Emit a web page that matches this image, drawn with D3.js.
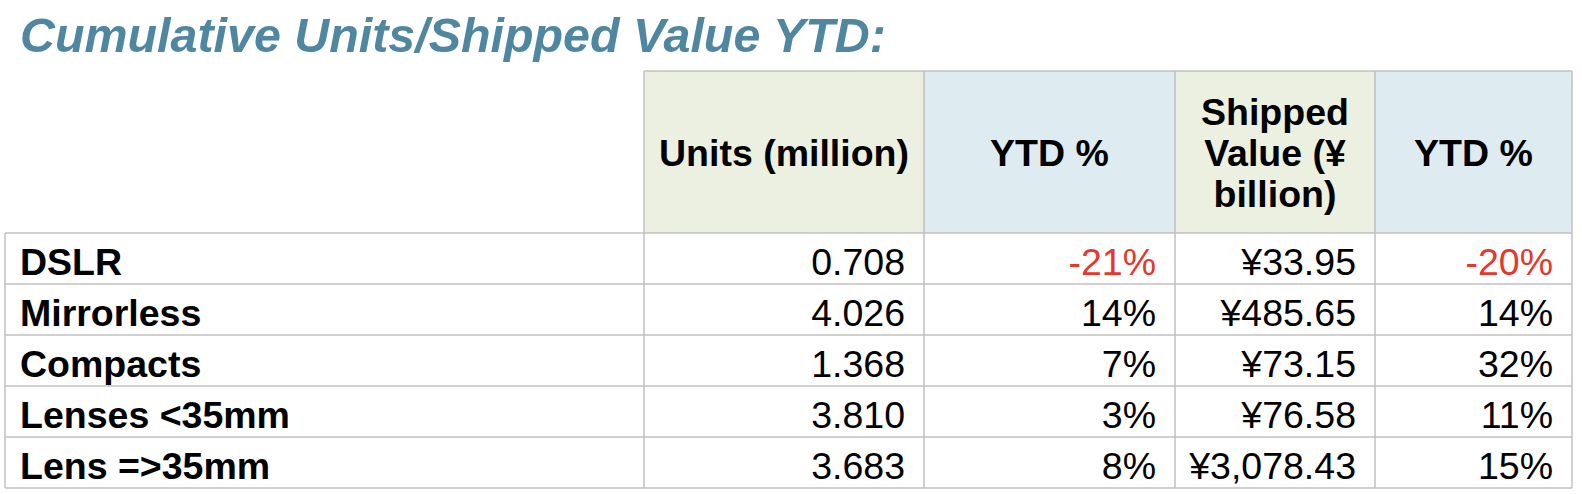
<!DOCTYPE html>
<html>
<head>
<meta charset="utf-8">
<script src="https://cdn.jsdelivr.net/npm/d3@7"></script>
<style>
  html, body { margin: 0; padding: 0; background: #fff; }
  svg { display: block; font-family: "Liberation Sans", Arial, Helvetica, sans-serif; }
</style>
</head>
<body>
<svg id="chart"></svg>
<script>
// table values
const title = "Cumulative Units/Shipped Value YTD:";
const categories = ["DSLR", "Mirrorless", "Compacts", "Lenses <35mm", "Lens =>35mm"];
const units = [0.708, 4.026, 1.368, 3.810, 3.683];          // million
const unitsYtd = [-21, 14, 7, 3, 8];                          // %
const shippedValue = [33.95, 485.65, 73.15, 76.58, 3078.43];  // ¥ billion
const valueYtd = [-20, 14, 32, 11, 15];                       // %
const headerLabels = [["Units (million)"], ["YTD %"], ["Shipped", "Value (¥", "billion)"], ["YTD %"]];

const width = 1582, height = 494;
const colKeys = ["label", "units", "unitsYtd", "value", "valueYtd", "end"];
const x = d3.scaleOrdinal().domain(colKeys).range([5, 644, 924, 1175, 1375, 1572]);
const headerTop = 71, headerBottom = 233;
const y = d3.scaleBand().domain(categories).range([headerBottom, 488]);

const fillGreen = "#ecf0e1", fillBlue = "#deecf1", border = "#c0c0c0";
const fs = 37.5, pad = 19;

const svg = d3.select("#chart").attr("width", width).attr("height", height);

svg.append("text")
  .attr("x", 20).attr("y", 52)
  .attr("font-size", 48.4).attr("font-weight", "bold").attr("font-style", "italic")
  .attr("fill", "#4f87a0")
  .text(title);

// header cells
const headerCols = colKeys.slice(1, 5);
const headerFill = [fillGreen, fillBlue, fillGreen, fillBlue];
const hdr = svg.append("g");
headerCols.forEach((k, i) => {
  const x0 = x(k), x1 = x(colKeys[i + 2]);
  hdr.append("rect")
    .attr("x", x0).attr("y", headerTop)
    .attr("width", x1 - x0).attr("height", headerBottom - headerTop)
    .attr("fill", headerFill[i]);
  const lines = headerLabels[i];
  const lh = 41;
  const cy = (headerTop + headerBottom) / 2;
  lines.forEach((t, j) => {
    hdr.append("text")
      .attr("x", (x0 + x1) / 2)
      .attr("y", cy + (j - (lines.length - 1) / 2) * lh + fs * 0.36)
      .attr("text-anchor", "middle")
      .attr("font-size", fs).attr("font-weight", "bold")
      .text(t);
  });
});

// body rows
const fmtUnits = d3.format(".3f");
const fmtYen = d3.format(",.2f");
const fmtPct = v => (v < 0 ? "-" : "") + Math.abs(v) + "%";

const rows = categories.map((c, i) => ({
  c, cells: [
    { k: "units", t: fmtUnits(units[i]), red: false },
    { k: "unitsYtd", t: fmtPct(unitsYtd[i]), red: unitsYtd[i] < 0 },
    { k: "value", t: "¥" + fmtYen(shippedValue[i]), red: false },
    { k: "valueYtd", t: fmtPct(valueYtd[i]), red: valueYtd[i] < 0 }
  ]
}));

const baseY = c => y(c) + y.bandwidth() / 2 + fs * 0.44;

const row = svg.selectAll("g.row").data(rows).enter().append("g").attr("class", "row");
row.append("text")
  .attr("x", x("label") + 15)
  .attr("y", d => baseY(d.c))
  .attr("font-size", fs).attr("font-weight", "bold")
  .text(d => d.c);
row.selectAll("text.num").data(d => d.cells.map(e => ({ ...e, c: d.c }))).enter().append("text")
  .attr("class", "num")
  .attr("x", d => x(colKeys[colKeys.indexOf(d.k) + 1]) - pad)
  .attr("y", d => baseY(d.c))
  .attr("text-anchor", "end")
  .attr("font-size", fs)
  .attr("fill", d => d.red ? "#e8372a" : "#000")
  .text(d => d.t);

// grid lines
const grid = svg.append("g").attr("stroke", border).attr("stroke-width", 1.5).attr("fill", "none");
grid.append("line").attr("x1", x("units")).attr("x2", x("end")).attr("y1", headerTop).attr("y2", headerTop);
[headerBottom, ...categories.map(c => y(c) + y.bandwidth())].forEach(yy => {
  grid.append("line").attr("x1", x("label")).attr("x2", x("end")).attr("y1", yy).attr("y2", yy);
});
grid.append("line").attr("x1", x("label")).attr("x2", x("label")).attr("y1", headerBottom).attr("y2", y.range()[1]);
colKeys.slice(1).forEach(k => {
  grid.append("line").attr("x1", x(k)).attr("x2", x(k)).attr("y1", headerTop).attr("y2", y.range()[1]);
});
</script>
</body>
</html>
